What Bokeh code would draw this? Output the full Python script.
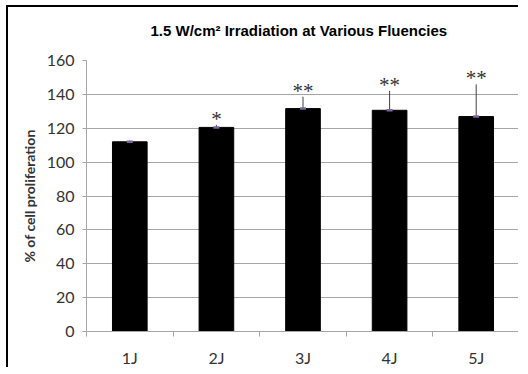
from bokeh.plotting import figure
from bokeh.models import ColumnDataSource, FixedTicker, Range1d, Title
from bokeh.embed import file_html
from bokeh.resources import INLINE

categories = ["1J", "2J", "3J", "4J", "5J"]
proliferation = [112.0, 120.5, 131.6, 130.6, 126.9]
error_upper = [0.8, 1.5, 7.0, 11.5, 19.0]
significance = ["", "*", "**", "**", "**"]
y_ticks = [0, 20, 40, 60, 80, 100, 120, 140, 160]
title_text = "1.5 W/cm\u00b2 Irradiation  at Various  Fluencies"

x = [i + 0.5 for i in range(len(categories))]
tops = [v + e for v, e in zip(proliferation, error_upper)]
src = ColumnDataSource(dict(x=x, v=proliferation, top=tops, sig=significance))

W, H = 512, 362
p = figure(width=W, height=H, x_range=Range1d(0, len(categories)), y_range=Range1d(0, 160),
           output_backend="svg", toolbar_location=None,
           min_border_left=78, min_border_right=1, min_border_top=53, min_border_bottom=36)
p.styles = {"border-left": "2px solid black", "border-top": "2px solid black",
            "margin-left": "6px", "margin-top": "5px"}
p.outline_line_color = None

# real title, with a blank spacer title between it and the frame
p.title.text = title_text
p.title.align = "center"
p.title.offset = -8
p.title.standoff = 4
p.title.text_font = "Liberation Sans"
p.title.text_font_size = "15px"
p.title.text_font_style = "bold"
p.title.text_color = "black"
p.add_layout(Title(text=" ", text_font_size="1px", standoff=17), "above")

p.vbar(x="x", top="v", bottom=0, width=0.4, source=src, fill_color="black", line_color="black")
p.segment(x0="x", y0="v", x1="x", y1="top", source=src, line_color="#404040", line_width=1)
p.scatter(x="x", y="v", source=src, marker="dash", size=6, line_color="#8064a2", line_width=2.5)
p.text(x="x", y="top", text="sig", source=src, text_align="center", text_baseline="middle",
       y_offset=-6, text_font="DejaVu Sans Mono", text_font_size="21px", text_color="#333333")

gray = "#a6a6a6"
p.xgrid.grid_line_color = None
p.ygrid.grid_line_color = gray
p.ygrid.ticker = FixedTicker(ticks=y_ticks)

xa = p.xaxis[0]
xa.ticker = FixedTicker(ticks=x, minor_ticks=list(range(len(categories) + 1)))
xa.major_label_overrides = {xi: c for xi, c in zip(x, categories)}
xa.major_tick_line_color = None
xa.major_tick_in = 0
xa.major_tick_out = 0
xa.minor_tick_in = 0
xa.minor_tick_out = 5
xa.minor_tick_line_color = gray
xa.axis_line_color = gray
xa.major_label_standoff = 11
xa.major_label_text_font = "Lato"
xa.major_label_text_font_size = "16px"
xa.major_label_text_color = "#333333"

ya = p.yaxis[0]
ya.ticker = FixedTicker(ticks=y_ticks)
ya.axis_line_color = gray
ya.major_tick_line_color = gray
ya.major_tick_in = 0
ya.major_tick_out = 4
ya.minor_tick_line_color = None
ya.major_label_standoff = 8
ya.major_label_text_font = "Lato"
ya.major_label_text_font_size = "16px"
ya.major_label_text_color = "#333333"
ya.axis_label = "% of cell proliferation"
ya.axis_label_text_font = "Lato"
ya.axis_label_text_font_size = "14px"
ya.axis_label_text_font_style = "bold"
ya.axis_label_text_color = "#333333"
ya.axis_label_standoff = 6

open("out.html", "w").write(file_html(p, INLINE))
